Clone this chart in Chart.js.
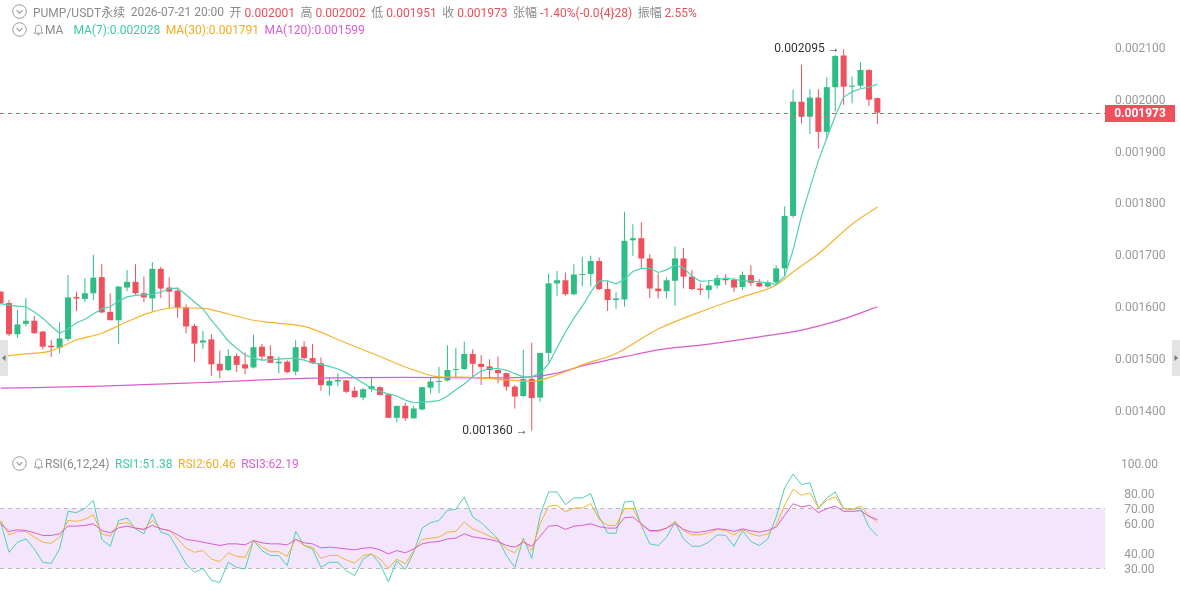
<!DOCTYPE html>
<html lang="zh-CN">
<head>
<meta charset="UTF-8">
<title>PUMP/USDT永续 K线</title>
<style>
    body {
        margin: 0;
        width: 1180px;
        height: 591px;
        overflow: hidden;
        position: relative;
        background: #fff;
        font-family: Roboto, "Noto Sans CJK SC", sans-serif;
    }
    canvas { position: absolute; left: 0; }
    #main { top: 0; }
    #rsi { top: 450px; }
    .row {
        position: absolute;
        left: 12px;
        display: flex;
        align-items: center;
        font-size: 12px;
        white-space: nowrap;
        color: #8a8a8a;
        z-index: 2;
    }
    .row svg { margin-right: 6px; }
    .row .grp { margin-right: 5.5px; }
    .r { color: #e8505b; }
    .t7 { color: #3fcaa8; }
    .t30 { color: #f5ad1f; }
    .t120 { color: #dd5bd2; }
    .handle {
        position: absolute;
        top: 340px;
        width: 8px;
        height: 36px;
        background: #e3e3e3;
    }
    .handle svg { position: absolute; top: 14px; left: 1px; }
</style>
</head>
<body>
<div class="row" style="top:3px">
    <svg width="15" height="15" viewBox="0 0 15 15"><circle cx="7.5" cy="7.5" r="6.8" fill="none" stroke="#9a9a9a"/><path d="M4.6 6.2 L7.5 9.1 L10.4 6.2" fill="none" stroke="#9a9a9a" stroke-width="1.1"/></svg>
    <span class="grp">PUMP/USDT永续</span>
    <span class="grp">2026-07-21 20:00</span>
    <span class="grp">开 <span class="r">0.002001</span></span>
    <span class="grp">高 <span class="r">0.002002</span></span>
    <span class="grp">低 <span class="r">0.001951</span></span>
    <span class="grp">收 <span class="r">0.001973</span></span>
    <span class="grp">张幅 <span class="r">-1.40%(-0.0{4}28)</span></span>
    <span class="grp">振幅 <span class="r">2.55%</span></span>
</div>
<div class="row" style="top:22px">
    <svg width="15" height="15" viewBox="0 0 15 15"><circle cx="7.5" cy="7.5" r="6.8" fill="none" stroke="#9a9a9a"/><path d="M4.6 6.2 L7.5 9.1 L10.4 6.2" fill="none" stroke="#9a9a9a" stroke-width="1.1"/></svg>
    <svg width="11" height="12" viewBox="0 0 11 12" style="margin-right:1px"><path d="M5.5 1.2 C3.4 1.2 2.4 2.9 2.4 4.7 V7.6 L1.2 9.2 H9.8 L8.6 7.6 V4.7 C8.6 2.9 7.6 1.2 5.5 1.2 Z" fill="none" stroke="#9a9a9a"/><path d="M4.3 10.7 H6.7" stroke="#9a9a9a"/></svg>
    <span class="grp" style="margin-right:10px">MA</span>
    <span class="grp t7">MA(7):0.002028</span>
    <span class="grp t30">MA(30):0.001791</span>
    <span class="grp t120">MA(120):0.001599</span>
</div>
<div class="row" style="top:456px">
    <svg width="15" height="15" viewBox="0 0 15 15"><circle cx="7.5" cy="7.5" r="6.8" fill="none" stroke="#9a9a9a"/><path d="M4.6 6.2 L7.5 9.1 L10.4 6.2" fill="none" stroke="#9a9a9a" stroke-width="1.1"/></svg>
    <svg width="11" height="12" viewBox="0 0 11 12" style="margin-right:1px"><path d="M5.5 1.2 C3.4 1.2 2.4 2.9 2.4 4.7 V7.6 L1.2 9.2 H9.8 L8.6 7.6 V4.7 C8.6 2.9 7.6 1.2 5.5 1.2 Z" fill="none" stroke="#9a9a9a"/><path d="M4.3 10.7 H6.7" stroke="#9a9a9a"/></svg>
    <span class="grp">RSI(6,12,24)</span>
    <span class="grp t7">RSI1:51.38</span>
    <span class="grp t30">RSI2:60.46</span>
    <span class="grp t120">RSI3:62.19</span>
</div>

<canvas id="main" width="1180" height="450"></canvas>
<canvas id="rsi" width="1180" height="141"></canvas>
<div class="handle" style="left:0"><svg width="6" height="8" viewBox="0 0 6 8"><path d="M4.5 1 L1 4 L4.5 7 Z" fill="#777"/></svg></div>
<div class="handle" style="left:1172px"><svg width="6" height="8" viewBox="0 0 6 8"><path d="M1.5 1 L5 4 L1.5 7 Z" fill="#777"/></svg></div>

<script src="https://cdn.jsdelivr.net/npm/chart.js@4.4.1/dist/chart.umd.min.js"></script>
<script>
// 4h candles, oldest first
const opens = [0.001628,0.001606,0.001546,0.001566,0.001572,0.001551,0.001524,0.001520,0.001537,0.001618,
    0.001614,0.001625,0.001656,0.001589,0.001573,0.001636,0.001647,0.001625,0.001615,0.001672,
    0.001636,0.001630,0.001598,0.001562,0.001530,0.001536,0.001489,0.001477,0.001504,0.001488,
    0.001482,0.001522,0.001504,0.001490,0.001493,0.001474,0.001522,0.001500,0.001490,0.001447,
    0.001455,0.001457,0.001437,0.001424,0.001440,0.001444,0.001430,0.001385,0.001408,0.001384,
    0.001401,0.001443,0.001454,0.001457,0.001477,0.001479,0.001508,0.001489,0.001484,0.001477,
    0.001471,0.001445,0.001427,0.001460,0.001424,0.001510,0.001644,0.001650,0.001623,0.001660,
    0.001662,0.001687,0.001633,0.001612,0.001613,0.001727,0.001731,0.001692,0.001634,0.001629,
    0.001649,0.001692,0.001657,0.001634,0.001631,0.001640,0.001654,0.001651,0.001637,0.001660,
    0.001645,0.001638,0.001646,0.001673,0.001774,0.001994,0.001965,0.002002,0.001936,0.002022,
    0.002083,0.002023,0.002025,0.002055,0.002001];
const highs = [0.001629,0.001612,0.001593,0.001616,0.001581,0.001552,0.001535,0.001569,0.001660,0.001628,
    0.001654,0.001699,0.001681,0.001625,0.001638,0.001670,0.001681,0.001657,0.001685,0.001676,
    0.001656,0.001636,0.001604,0.001566,0.001552,0.001546,0.001514,0.001517,0.001509,0.001511,
    0.001545,0.001527,0.001525,0.001503,0.001496,0.001535,0.001533,0.001527,0.001501,0.001463,
    0.001471,0.001458,0.001445,0.001442,0.001464,0.001446,0.001431,0.001408,0.001414,0.001408,
    0.001445,0.001463,0.001483,0.001525,0.001520,0.001532,0.001517,0.001506,0.001498,0.001503,
    0.001472,0.001448,0.001516,0.001530,0.001510,0.001663,0.001668,0.001665,0.001681,0.001695,
    0.001697,0.001694,0.001649,0.001627,0.001782,0.001758,0.001762,0.001700,0.001663,0.001656,
    0.001715,0.001712,0.001670,0.001644,0.001650,0.001660,0.001662,0.001654,0.001667,0.001679,
    0.001652,0.001650,0.001679,0.001792,0.002017,0.002065,0.002018,0.002018,0.002041,0.002084,
    0.002095,0.002042,0.002070,0.002057,0.002002];
const lows = [0.001604,0.001543,0.001539,0.001561,0.001547,0.001517,0.001502,0.001509,0.001533,0.001591,
    0.001608,0.001612,0.001586,0.001573,0.001527,0.001629,0.001622,0.001608,0.001591,0.001616,
    0.001597,0.001578,0.001548,0.001493,0.001518,0.001466,0.001461,0.001475,0.001473,0.001469,
    0.001480,0.001495,0.001491,0.001471,0.001471,0.001467,0.001498,0.001489,0.001437,0.001428,
    0.001446,0.001433,0.001423,0.001419,0.001435,0.001428,0.001385,0.001376,0.001379,0.001383,
    0.001399,0.001432,0.001433,0.001455,0.001461,0.001477,0.001462,0.001448,0.001460,0.001451,
    0.001437,0.001403,0.001425,0.001360,0.001416,0.001493,0.001620,0.001620,0.001621,0.001638,
    0.001638,0.001631,0.001591,0.001595,0.001599,0.001697,0.001673,0.001616,0.001615,0.001615,
    0.001601,0.001634,0.001631,0.001622,0.001615,0.001634,0.001641,0.001627,0.001631,0.001639,
    0.001637,0.001636,0.001641,0.001657,0.001771,0.001952,0.001932,0.001904,0.001922,0.001975,
    0.001988,0.001991,0.002021,0.001986,0.001951];
const closes = [0.001606,0.001546,0.001565,0.001572,0.001548,0.001522,0.001521,0.001538,0.001617,0.001615,
    0.001625,0.001655,0.001588,0.001573,0.001638,0.001647,0.001625,0.001617,0.001672,0.001634,
    0.001628,0.001597,0.001561,0.001528,0.001534,0.001488,0.001476,0.001504,0.001487,0.001480,
    0.001521,0.001503,0.001491,0.001493,0.001473,0.001521,0.001500,0.001490,0.001448,0.001456,
    0.001458,0.001435,0.001425,0.001440,0.001446,0.001429,0.001385,0.001408,0.001384,0.001403,
    0.001444,0.001455,0.001456,0.001477,0.001479,0.001508,0.001489,0.001483,0.001477,0.001471,
    0.001445,0.001426,0.001460,0.001423,0.001510,0.001644,0.001650,0.001623,0.001661,0.001662,
    0.001687,0.001633,0.001612,0.001615,0.001726,0.001731,0.001692,0.001634,0.001629,0.001650,
    0.001692,0.001657,0.001633,0.001631,0.001640,0.001654,0.001650,0.001636,0.001660,0.001645,
    0.001638,0.001646,0.001673,0.001774,0.001994,0.001965,0.002002,0.001936,0.002022,0.002082,
    0.002023,0.002025,0.002055,0.001998,0.001973];

// moving averages
const ma7 = [0.001605,0.001602,0.001600,0.001599,0.001589,0.001577,0.001562,0.001548,0.001556,0.001568,
    0.001575,0.001585,0.001595,0.001599,0.001610,0.001618,0.001621,0.001622,0.001623,0.001627,
    0.001634,0.001635,0.001622,0.001608,0.001595,0.001573,0.001554,0.001533,0.001519,0.001506,
    0.001500,0.001496,0.001497,0.001498,0.001499,0.001500,0.001496,0.001491,0.001488,0.001484,
    0.001479,0.001472,0.001462,0.001452,0.001442,0.001436,0.001431,0.001427,0.001419,0.001414,
    0.001415,0.001416,0.001418,0.001427,0.001439,0.001450,0.001464,0.001475,0.001480,0.001480,
    0.001477,0.001470,0.001464,0.001464,0.001471,0.001489,0.001520,0.001550,0.001577,0.001600,
    0.001627,0.001649,0.001649,0.001643,0.001652,0.001667,0.001673,0.001673,0.001665,0.001670,
    0.001679,0.001674,0.001658,0.001648,0.001649,0.001651,0.001654,0.001652,0.001649,0.001649,
    0.001647,0.001645,0.001642,0.001658,0.001708,0.001774,0.001828,0.001880,0.001924,0.001966,
    0.002003,0.002013,0.002019,0.002022,0.002028];
const ma30Idx = [0,3,6,9,12,15,18,21,24,27,30,33,36,41,45,49,52,56,60,63,65,69,73,78,84,88,92,94,97,101,104];
const ma30 = [0.001503,0.001508,0.001514,0.001535,0.001548,0.001570,0.001589,0.001597,0.001596,0.001585,
    0.001573,0.001567,0.001561,0.001529,0.001503,0.001477,0.001464,0.001463,0.001458,0.001455,
    0.001462,0.001487,0.001509,0.001556,0.001595,0.001618,0.001641,0.001666,0.001701,0.001758,0.001791];
const ma120Idx = [0,12,24,36,48,57,63,66,69,72,75,78,83,90,95,98,101,104];
const ma120 = [0.001442,0.001446,0.001453,0.001461,0.001463,0.001462,0.001464,0.001471,0.001485,0.001496,
    0.001506,0.001516,0.001525,0.001541,0.001554,0.001566,0.001581,0.001599];

// RSI(6,12,24)
const rsi1 = [60.6,40.5,47.2,49.4,42.7,33.8,33.1,42.7,67.8,66.9,
    69.6,75.1,49.0,44.5,61.7,63.3,56.1,52.8,66.2,53.9,
    52.1,42.7,32.7,27.1,29.8,21.9,20.4,33.8,30.4,29.3,
    48.3,41.6,38.3,38.3,31.6,54.4,45.0,42.7,30.4,33.8,
    33.8,28.2,24.9,36.0,39.4,32.7,20.8,34.9,28.9,40.5,
    56.6,60.2,61.7,68.4,69.1,77.4,64.0,60.2,55.0,49.4,
    38.3,30.4,49.9,36.5,65.1,80.7,80.7,72.2,76.7,76.7,
    79.6,64.0,53.2,53.2,74.0,74.5,58.4,46.1,45.0,50.6,
    60.6,49.4,44.5,44.5,47.2,52.1,51.7,44.5,55.0,47.6,
    45.0,49.4,64.0,83.4,92.6,85.6,86.8,70.0,76.7,80.7,
    69.6,69.1,70.0,57.3,51.38];
const rsi2 = [61.7,52.1,54.4,54.4,50.6,47.2,46.5,50.6,61.7,61.1,
    62.4,65.5,52.8,51.2,59.5,60.2,56.6,55.7,61.7,56.1,
    55.0,49.4,43.2,40.5,41.6,36.0,34.2,40.1,37.8,37.1,
    48.3,43.9,40.9,40.9,37.8,49.4,45.0,43.9,36.5,38.3,
    38.3,35.4,33.3,38.3,39.4,36.0,29.8,36.0,32.7,41.6,
    49.0,49.9,50.6,53.9,54.4,60.6,56.1,53.9,51.2,49.0,
    42.7,40.1,49.0,41.6,59.5,71.3,71.8,67.3,70.0,70.0,
    72.9,62.4,58.4,58.4,69.6,69.6,58.8,54.4,54.4,56.6,
    61.1,55.0,52.1,52.1,53.5,55.7,55.0,52.1,55.7,52.8,
    51.2,52.8,58.8,71.8,82.5,78.5,80.1,70.0,75.1,77.4,
    69.6,69.1,71.3,65.1,60.46];
const rsi3 = [59.5,54.4,55.5,55.0,53.5,51.7,51.7,52.8,57.9,57.9,
    58.4,59.5,55.0,53.5,56.8,57.9,56.6,55.7,58.4,56.1,
    55.0,52.1,49.0,48.3,47.2,46.1,45.0,46.1,46.1,45.4,
    48.3,46.8,46.1,46.1,45.4,49.0,46.8,46.1,43.4,43.9,
    43.4,42.7,42.1,43.2,43.6,42.1,39.4,41.6,40.1,42.7,
    46.1,47.2,47.7,49.4,49.9,52.8,50.8,49.9,49.0,47.7,
    45.0,43.9,47.2,44.5,51.2,57.9,58.4,55.7,57.9,58.4,
    59.5,57.5,56.6,56.6,63.5,64.0,59.5,55.0,55.0,56.6,
    59.5,55.7,53.9,53.9,55.0,56.1,55.7,54.4,56.1,54.8,
    53.9,55.0,57.3,65.1,72.9,70.7,71.8,66.9,69.6,71.3,
    67.8,67.8,68.2,64.4,62.19];

const priceTicks = [0.0014, 0.0015, 0.0016, 0.0017, 0.0018, 0.0019, 0.0020, 0.0021];
const rsiTicks = [100, 80, 70, 60, 40, 30];

const GREEN = '#2ebd85';
const RED = '#f0505c';
const C7 = '#4fd0b4', C30 = '#f6b330', C120 = '#d95ccf';

const xMin = -0.07, xMax = 131;
const idx = opens.map((_, i) => i);
const colors = idx.map(i => closes[i] >= opens[i] ? GREEN : RED);

// right axis: fixed width, no vertical padding eaten from the plot
function fixedAxis(width) {
    return s => {
        s.width = width;
        s.paddingTop = 0;
        s.paddingBottom = 0;
    };
}
const xAxis = {
    type: 'linear', min: xMin, max: xMax, offset: false, display: false,
    afterBuildTicks: s => { s.ticks = idx.map(v => ({ value: v })); }
};
const tickFont = { family: 'Roboto, sans-serif', size: 12 };

const priceMarks = {
    id: 'priceMarks',
    afterDatasetsDraw(chart) {
        const { ctx, chartArea: a, scales: { x, y } } = chart;
        const last = closes[closes.length - 1];
        const py = Math.round(y.getPixelForValue(last));
        ctx.save();
        ctx.fillStyle = RED;
        for (let px = a.left; px < a.right; px += 8) {
            ctx.fillRect(px, py, 4, 1);
        }

        const hi = Math.max(...highs), lo = Math.min(...lows);
        ctx.font = '12px Roboto, sans-serif';
        ctx.fillStyle = '#333';
        ctx.textAlign = 'right';
        ctx.textBaseline = 'middle';
        ctx.fillText(hi.toFixed(6) + ' →', x.getPixelForValue(highs.indexOf(hi)) - 4, y.getPixelForValue(hi));
        ctx.fillText(lo.toFixed(6) + ' →', x.getPixelForValue(lows.indexOf(lo)) - 4, y.getPixelForValue(lo));
        ctx.restore();
    },
    afterDraw(chart) {
        const { ctx, chartArea: a, scales: { y } } = chart;
        const last = closes[closes.length - 1];
        const py = Math.round(y.getPixelForValue(last));
        ctx.save();
        ctx.fillStyle = RED;
        ctx.fillRect(a.right, py - 8, 70, 17);
        ctx.fillStyle = '#fff';
        ctx.font = 'bold 12px Roboto, sans-serif';
        ctx.textAlign = 'center';
        ctx.textBaseline = 'middle';
        ctx.fillText(last.toFixed(6), a.right + 35, py + 1);
        ctx.restore();
    }
};

new Chart(document.getElementById('main'), {
    type: 'bar',
    data: {
        datasets: [
            { type: 'line', data: idx.map(i => ({ x: i, y: ma7[i] })), borderColor: C7, borderWidth: 1.2, pointRadius: 0, order: 0 },
            { type: 'line', data: ma30Idx.map((v, i) => ({ x: v, y: ma30[i] })), borderColor: C30, borderWidth: 1.2, pointRadius: 0, cubicInterpolationMode: 'monotone', order: 0 },
            { type: 'line', data: ma120Idx.map((v, i) => ({ x: v, y: ma120[i] })), borderColor: C120, borderWidth: 1.2, pointRadius: 0, cubicInterpolationMode: 'monotone', order: 0 },
            { data: idx.map(i => ({ x: i, y: [lows[i], highs[i]] })), backgroundColor: colors, grouped: false, maxBarThickness: 1, borderWidth: 0, order: 2 },
            { data: idx.map(i => ({ x: i, y: [opens[i], closes[i]] })), backgroundColor: colors, grouped: false, maxBarThickness: 6, minBarLength: 1, borderWidth: 0, order: 1 }
        ]
    },
    options: {
        responsive: false,
        animation: false,
        layout: { padding: 0 },
        plugins: { legend: { display: false }, tooltip: { enabled: false } },
        scales: {
            x: xAxis,
            y: {
                position: 'right',
                min: 0.00219 - 450 * 0.0000019268,
                max: 0.00219,
                grid: { display: false, drawTicks: false },
                border: { display: false },
                afterFit: fixedAxis(75),
                afterBuildTicks: s => { s.ticks = priceTicks.map(v => ({ value: v })); },
                ticks: { color: '#999', font: tickFont, crossAlign: 'center', padding: 10, labelOffset: 2, callback: v => v.toFixed(6) }
            }
        }
    },
    plugins: [priceMarks]
});

const rsiBand = {
    id: 'rsiBand',
    beforeDatasetsDraw(chart) {
        const { ctx, chartArea: a, scales: { y } } = chart;
        const top = Math.round(y.getPixelForValue(70)) + 0.5;
        const bot = Math.round(y.getPixelForValue(30)) + 0.5;
        ctx.save();
        ctx.fillStyle = '#f3e6fc';
        ctx.fillRect(a.left, top, a.right - a.left, bot - top);
        ctx.strokeStyle = '#b8b8b8';
        ctx.lineWidth = 1;
        ctx.setLineDash([4, 4]);
        ctx.beginPath();
        ctx.moveTo(a.left, top); ctx.lineTo(a.right, top);
        ctx.moveTo(a.left, bot); ctx.lineTo(a.right, bot);
        ctx.stroke();
        ctx.restore();
    }
};

function rsiLine(vals, color) {
    return { data: idx.map(i => ({ x: i, y: vals[i] })), borderColor: color, borderWidth: 1, pointRadius: 0 };
}

new Chart(document.getElementById('rsi'), {
    type: 'line',
    data: { datasets: [rsiLine(rsi3, C120), rsiLine(rsi2, C30), rsiLine(rsi1, C7)] },
    options: {
        responsive: false,
        animation: false,
        layout: { padding: 0 },
        plugins: { legend: { display: false }, tooltip: { enabled: false } },
        scales: {
            x: xAxis,
            y: {
                position: 'right',
                min: 22 / 1.5,
                max: 163 / 1.5,
                grid: { display: false, drawTicks: false },
                border: { display: false },
                afterFit: fixedAxis(75),
                afterBuildTicks: s => { s.ticks = rsiTicks.map(v => ({ value: v })); },
                ticks: { color: '#999', font: tickFont, crossAlign: 'center', padding: 16, labelOffset: 2, callback: v => v.toFixed(2) }
            }
        }
    },
    plugins: [rsiBand]
});
</script>
</body>
</html>
